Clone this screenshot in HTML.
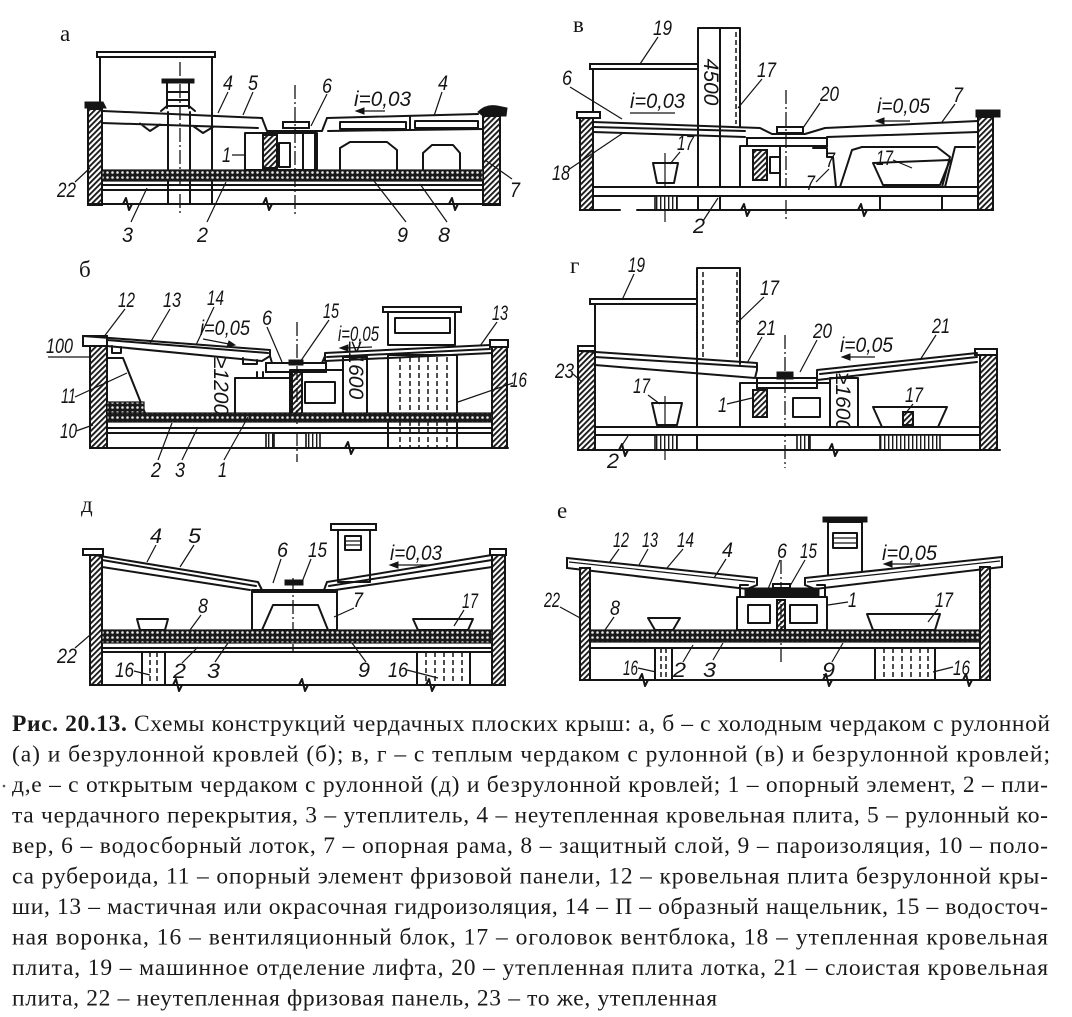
<!DOCTYPE html>
<html><head><meta charset="utf-8"><style>
html,body{margin:0;padding:0;background:#fff}
svg{display:block}
.l{fill:none;stroke:#141414;stroke-width:2;stroke-linejoin:round;stroke-linecap:round}
.t{fill:none;stroke:#141414;stroke-width:1.2}
.w{fill:#fff;stroke:#141414;stroke-width:2}
.b{fill:#141414;stroke:#141414;stroke-width:1}
.hw{fill:url(#h);stroke:#141414;stroke-width:2}
.ins{fill:url(#ins);stroke:#141414;stroke-width:1.2}
.vb{fill:url(#vl);stroke:#141414;stroke-width:1.6}
.ax{fill:none;stroke:#141414;stroke-width:1.3;stroke-dasharray:14 3 2 3}
.d{fill:none;stroke:#141414;stroke-width:1.5;stroke-dasharray:5 3}
.n{font-family:"Liberation Sans",sans-serif;font-style:italic;font-size:21px;fill:#141414}
.p{font-family:"Liberation Serif",serif;font-size:23px;fill:#141414}
.c{font-family:"Liberation Serif","Noto Serif CJK SC",serif;font-size:23.5px;fill:#1a1a1a}
</style></head><body>
<svg width="1072" height="1017" viewBox="0 0 1072 1017" xmlns="http://www.w3.org/2000/svg">
<defs>
<pattern id="h" width="4" height="4" patternUnits="userSpaceOnUse" patternTransform="rotate(45)"><rect width="4" height="4" fill="#fff"/><rect width="1.9" height="4" fill="#1a1a1a"/></pattern>
<pattern id="ins" width="5" height="5" patternUnits="userSpaceOnUse"><rect width="5" height="5" fill="#1a1a1a"/><circle cx="2.5" cy="2.5" r="1.3" fill="#e8e8e8"/></pattern>
<pattern id="vl" width="4" height="4" patternUnits="userSpaceOnUse"><rect width="4" height="4" fill="#fff"/><rect width="1.4" height="4" fill="#1a1a1a"/></pattern>
</defs>

<!-- ================= PANEL а ================= -->
<text class="p" x="60" y="41">а</text>
<rect class="w" x="97" y="52" width="118" height="5"/>
<path class="l" d="M100 57V111M212 57V111"/>
<rect class="b" x="162" y="79" width="32" height="4"/>
<path class="l" d="M167 83V108M189 83V108M167 92H189M167 100H189M161 111L167 106H189L195 111"/>
<path class="ax" d="M180 62V216"/>
<path class="l" d="M168 112V204M190 112V204M212 112V204"/>
<path class="b" d="M85 102H103L106 108H85Z"/>
<rect class="hw" x="88" y="109" width="14" height="96"/>
<rect class="hw" x="483" y="116" width="17" height="89"/>
<path class="b" d="M478 112Q486 104 497 106L507 108L506 116H483Z"/>
<path class="l" stroke-width="3" d="M103 111L262 118"/>
<path class="l" d="M102 123L258 128M140 123.5L150 131L160 124.5M193 126L203 133L213 127"/>
<path class="l" d="M262 118L267 131H322L327 118"/>
<rect class="w" x="283" y="122" width="26" height="6"/>
<path class="l" stroke-width="3" d="M327 118L478 114"/>
<path class="l" d="M328 131L483 129M410 117V130"/>
<rect class="l" x="340" y="122" width="66" height="7"/>
<rect class="l" x="415" y="121" width="63" height="7"/>
<rect class="l" x="245" y="133" width="72" height="37"/>
<rect class="hw" x="263" y="135" width="14" height="33"/>
<rect class="l" x="279" y="143" width="11" height="24"/>
<path class="l" d="M303 133V170M315 133V170"/>
<path class="ax" d="M295 85V216"/>
<path class="l" d="M340 172V148L350 142H387L397 150V172M423 172V153L432 145H453L460 153V172"/>
<rect class="ins" x="102" y="170" width="381" height="11"/>
<path class="l" d="M102 185H483M102 190H483"/>
<path class="l" d="M88 204H500"/>
<path class="l" d="M123 204L126 198L129 210L132 204M263 204L266 198L269 210L272 204M449 204L452 198L455 210L458 204"/>
<g class="t">
<path d="M228 92L218 113M253 92L243 115M327 94L311 126M442 92L434 116M232 155H246M75 182L90 168M512 179L485 160M131 222L147 188M207 222L226 182M406 222L374 181M447 222L420 184M385 111H362"/>
</g>
<path class="b" d="M356 111L364 108V114Z"/>
<text class="n" x="223" y="90" textLength="10" lengthAdjust="spacingAndGlyphs">4</text>
<text class="n" x="248" y="90" textLength="10" lengthAdjust="spacingAndGlyphs">5</text>
<text class="n" x="322" y="93" textLength="10" lengthAdjust="spacingAndGlyphs">6</text>
<text class="n" x="354" y="106" textLength="57" lengthAdjust="spacingAndGlyphs">i=0,03</text>
<text class="n" x="438" y="90" textLength="10" lengthAdjust="spacingAndGlyphs">4</text>
<text class="n" x="222" y="162" textLength="9" lengthAdjust="spacingAndGlyphs">1</text>
<text class="n" x="57" y="197" textLength="19" lengthAdjust="spacingAndGlyphs">22</text>
<text class="n" x="510" y="197" textLength="10" lengthAdjust="spacingAndGlyphs">7</text>
<text class="n" x="122" y="242" textLength="11" lengthAdjust="spacingAndGlyphs">3</text>
<text class="n" x="197" y="242" textLength="11" lengthAdjust="spacingAndGlyphs">2</text>
<text class="n" x="397" y="242" textLength="11" lengthAdjust="spacingAndGlyphs">9</text>
<text class="n" x="438" y="242" textLength="12" lengthAdjust="spacingAndGlyphs">8</text>

<!-- ================= PANEL в ================= -->
<text class="p" x="573" y="32">в</text>
<rect class="w" x="590" y="64" width="108" height="5"/>
<path class="l" d="M593 69V121"/>
<path class="l" d="M698 28H740V127M698 28V187M720 28V187M698 197V210M720 197V210"/>
<path class="d" d="M736 32V124"/>
<text class="n" font-size="16" transform="translate(704,82) rotate(90)" text-anchor="middle">4500</text>
<rect class="w" x="577" y="112" width="23" height="6"/>
<rect class="hw" x="580" y="118" width="13" height="92"/>
<rect class="b" x="976" y="110" width="24" height="7"/>
<rect class="hw" x="978" y="117" width="15" height="93"/>
<path class="l" stroke-width="3" d="M593 122L760 128L772 134H805L825 128L978 121"/>
<path class="l" d="M593 132L745 137M827 137L978 132M593 127L745 131"/>
<rect class="w" x="777" y="127" width="26" height="6"/>
<rect class="w" x="747" y="138" width="80" height="8"/>
<rect class="l" x="740" y="146" width="40" height="41"/>
<rect class="hw" x="753" y="150" width="14" height="30"/>
<rect class="l" x="770" y="157" width="10" height="16"/>
<path class="ax" d="M786 90V222"/>
<path class="l" d="M813 148H827V157H833L836 187M840 187L852 150L862 147H937L950 157L942 187M945 187L955 147H975"/>
<path class="l" d="M873 163L950 160L940 185H883Z"/>
<path class="l" d="M653 163H678L674 183H657Z"/>
<path class="t" d="M665 153V222"/>
<rect class="w" x="593" y="187" width="385" height="9"/>
<rect class="vb" x="655" y="196" width="22" height="14"/>
<path class="l" d="M880 196V210M942 196V210"/>
<path class="l" d="M580 210H620M637 210H993"/>
<path class="l" d="M741 210L744 204L747 216L750 210M858 210L861 204L864 216L867 210"/>
<g class="t"><path d="M658 37L640 64M762 79L738 108M570 87L622 119M820 103L803 128M955 104L942 122M568 170L623 133M680 152L670 164M829 169L816 182M893 160L912 168M703 221L718 198M630 113H675M910 121H882"/></g>
<path class="b" d="M876 121L884 118V124Z"/>
<text class="n" x="653" y="35" textLength="19" lengthAdjust="spacingAndGlyphs">19</text>
<text class="n" x="757" y="77" textLength="19" lengthAdjust="spacingAndGlyphs">17</text>
<text class="n" x="562" y="85" textLength="10" lengthAdjust="spacingAndGlyphs">6</text>
<text class="n" x="630" y="108" textLength="55" lengthAdjust="spacingAndGlyphs">i=0,03</text>
<text class="n" x="820" y="101" textLength="19" lengthAdjust="spacingAndGlyphs">20</text>
<text class="n" x="877" y="113" textLength="53" lengthAdjust="spacingAndGlyphs">i=0,05</text>
<text class="n" x="953" y="102" textLength="10" lengthAdjust="spacingAndGlyphs">7</text>
<text class="n" x="552" y="180" textLength="18" lengthAdjust="spacingAndGlyphs">18</text>
<text class="n" x="677" y="150" textLength="17" lengthAdjust="spacingAndGlyphs">17</text>
<text class="n" x="826" y="167" textLength="9" lengthAdjust="spacingAndGlyphs">7</text>
<text class="n" x="806" y="190" textLength="9" lengthAdjust="spacingAndGlyphs">7</text>
<text class="n" x="876" y="165" textLength="17" lengthAdjust="spacingAndGlyphs">17</text>
<text class="n" x="693" y="233" textLength="12" lengthAdjust="spacingAndGlyphs">2</text>

<!-- ================= PANEL б ================= -->
<text class="p" x="79" y="277">б</text>
<rect class="w" x="383" y="307" width="78" height="5"/>
<rect class="l" x="388" y="312" width="67" height="33"/>
<rect class="l" x="395" y="318" width="55" height="15"/>
<rect class="l" x="388" y="355" width="69" height="93"/>
<path class="d" d="M400 357V447M410 357V447M419 357V447M428 357V447M437 357V447M447 357V447"/>
<path class="l" d="M367 357V415"/>
<rect class="w" x="83" y="336" width="24" height="10"/>
<rect class="hw" x="90" y="346" width="17" height="102"/>
<rect class="w" x="490" y="340" width="18" height="7"/>
<rect class="hw" x="492" y="347" width="15" height="101"/>
<path class="l" d="M83 336L270 350V356L262 361L107 346M107 340L268 353"/>
<path class="l" d="M112 346V353H121V347M243 358V364H257V360"/>
<path class="l" d="M270 356L272 363H322L325 356"/>
<rect class="w" x="266" y="363" width="60" height="9"/>
<rect class="b" x="289" y="360" width="14" height="5"/>
<path class="l" d="M325 353L490 345M325 353V361L492 353M327 357L490 349"/>
<path class="l" d="M107 358H123L145 413"/>
<rect class="ins" x="107" y="402" width="37" height="11"/>
<path class="l" d="M257 372V378M263 372V378"/>
<rect class="l" x="235" y="378" width="55" height="37"/>
<rect class="l" x="290" y="370" width="53" height="45"/>
<rect class="hw" x="292" y="372" width="10" height="42"/>
<rect class="l" x="305" y="382" width="30" height="21"/>
<rect class="l" x="343" y="357" width="24" height="58"/>
<path class="ax" d="M297 322V462"/>
<rect class="ins" x="107" y="413" width="385" height="9"/>
<path class="l" d="M107 428H492M107 433H492"/>
<rect class="vb" x="266" y="433" width="8" height="15"/>
<rect class="vb" x="306" y="433" width="14" height="15"/>
<path class="l" d="M90 448H508"/>
<path class="l" d="M345 448L348 442L351 454L354 448"/>
<text class="n" font-size="16" transform="translate(214,386) rotate(90)" text-anchor="middle">≥1200</text>
<text class="n" font-size="15" transform="translate(349,370) rotate(90)" text-anchor="middle">≥1600</text>
<g class="t"><path d="M125 309L103 338M170 309L150 343M214 307L196 345M267 327L282 362M329 320L300 362M497 322L480 346M48 357H92M75 397L127 373M76 431L93 425M158 460L172 423M182 460L198 427M224 460L248 417M513 383L458 402M203 339L229 344M372 347L346 348"/></g>
<path class="b" d="M235 345L227 347L229 341Z"/>
<path class="b" d="M340 348L348 345V351Z"/>
<text class="n" x="118" y="307" textLength="17" lengthAdjust="spacingAndGlyphs">12</text>
<text class="n" x="163" y="307" textLength="18" lengthAdjust="spacingAndGlyphs">13</text>
<text class="n" x="207" y="305" textLength="17" lengthAdjust="spacingAndGlyphs">14</text>
<text class="n" x="200" y="335" textLength="50" lengthAdjust="spacingAndGlyphs">i=0,05</text>
<text class="n" x="262" y="325" textLength="10" lengthAdjust="spacingAndGlyphs">6</text>
<text class="n" x="323" y="318" textLength="16" lengthAdjust="spacingAndGlyphs">15</text>
<text class="n" x="338" y="341" textLength="41" lengthAdjust="spacingAndGlyphs">i=0,05</text>
<text class="n" x="492" y="320" textLength="16" lengthAdjust="spacingAndGlyphs">13</text>
<text class="n" x="46" y="353" textLength="27" lengthAdjust="spacingAndGlyphs">100</text>
<text class="n" x="61" y="403" textLength="15" lengthAdjust="spacingAndGlyphs">11</text>
<text class="n" x="60" y="438" textLength="17" lengthAdjust="spacingAndGlyphs">10</text>
<text class="n" x="151" y="477" textLength="10" lengthAdjust="spacingAndGlyphs">2</text>
<text class="n" x="175" y="477" textLength="10" lengthAdjust="spacingAndGlyphs">3</text>
<text class="n" x="218" y="477" textLength="9" lengthAdjust="spacingAndGlyphs">1</text>
<text class="n" x="510" y="387" textLength="17" lengthAdjust="spacingAndGlyphs">16</text>

<!-- ================= PANEL г ================= -->
<text class="p" x="570" y="273">г</text>
<rect class="w" x="590" y="299" width="107" height="5"/>
<path class="l" d="M595 304V352"/>
<path class="l" d="M697 268H740V364M697 268V450"/>
<path class="d" d="M703 272V360M737 272V360"/>
<rect class="w" x="578" y="346" width="17" height="5"/>
<rect class="hw" x="578" y="351" width="17" height="99"/>
<rect class="w" x="975" y="349" width="22" height="6"/>
<rect class="hw" x="980" y="355" width="17" height="95"/>
<path class="l" d="M581 351L757 363V370L755 378L595 365M595 357L757 367"/>
<rect class="w" x="757" y="378" width="60" height="10"/>
<rect class="b" x="777" y="372" width="16" height="7"/>
<path class="l" d="M817 370L977 353M817 370V380L977 362M820 374L977 357"/>
<rect class="l" x="740" y="383" width="90" height="44"/>
<rect class="hw" x="753" y="390" width="14" height="27"/>
<rect class="l" x="793" y="398" width="27" height="19"/>
<rect class="l" x="830" y="378" width="28" height="49"/>
<text class="n" font-size="14" transform="translate(836,402) rotate(90)" text-anchor="middle">≥1600</text>
<path class="ax" d="M785 335V468"/>
<path class="l" d="M652 403H682L677 425H657Z"/>
<path class="t" d="M665 396V460"/>
<path class="l" d="M873 407H947L938 427H882Z"/>
<rect class="hw" x="903" y="412" width="10" height="13"/>
<rect class="w" x="595" y="427" width="385" height="8"/>
<rect class="vb" x="655" y="435" width="22" height="15"/>
<rect class="vb" x="880" y="435" width="60" height="15"/>
<rect class="vb" x="797" y="435" width="13" height="15"/>
<path class="l" d="M578 450H1000"/>
<path class="l" d="M619 450L622 444L625 456L628 450M829 450L832 444L835 456L838 450"/>
<g class="t"><path d="M634 274L622 300M764 297L738 322M762 337L747 363M817 340L800 372M936 335L920 360M573 374L582 382M648 395L660 404M727 404L752 398M913 404L905 414M619 450L628 436M875 357H848"/></g>
<path class="b" d="M842 357L850 354V360Z"/>
<text class="n" x="628" y="272" textLength="17" lengthAdjust="spacingAndGlyphs">19</text>
<text class="n" x="760" y="295" textLength="19" lengthAdjust="spacingAndGlyphs">17</text>
<text class="n" x="757" y="335" textLength="19" lengthAdjust="spacingAndGlyphs">21</text>
<text class="n" x="813" y="338" textLength="19" lengthAdjust="spacingAndGlyphs">20</text>
<text class="n" x="840" y="352" textLength="53" lengthAdjust="spacingAndGlyphs">i=0,05</text>
<text class="n" x="932" y="333" textLength="18" lengthAdjust="spacingAndGlyphs">21</text>
<text class="n" x="555" y="378" textLength="19" lengthAdjust="spacingAndGlyphs">23</text>
<text class="n" x="633" y="393" textLength="17" lengthAdjust="spacingAndGlyphs">17</text>
<text class="n" x="718" y="412" textLength="9" lengthAdjust="spacingAndGlyphs">1</text>
<text class="n" x="905" y="402" textLength="18" lengthAdjust="spacingAndGlyphs">17</text>
<text class="n" x="607" y="468" textLength="12" lengthAdjust="spacingAndGlyphs">2</text>

<!-- ================= PANEL д ================= -->
<text class="p" x="81" y="512">д</text>
<rect class="w" x="331" y="524" width="45" height="6"/>
<rect class="l" x="338" y="530" width="32" height="52"/>
<rect class="l" x="345" y="536" width="16" height="14"/>
<path class="t" d="M345 541H361M345 545H361"/>
<rect class="w" x="83" y="549" width="20" height="6"/>
<rect class="hw" x="90" y="555" width="12" height="130"/>
<rect class="w" x="490" y="549" width="16" height="6"/>
<rect class="hw" x="492" y="555" width="13" height="130"/>
<path class="l" d="M94 555L258 582M102 560L256 586M102 567L250 590M258 582L262 590"/>
<path class="l" d="M327 582L492 555M329 586L492 560M335 590L492 567M327 582L324 590"/>
<path class="l" d="M262 590H324"/>
<rect class="b" x="285" y="580" width="18" height="5"/>
<rect class="l" x="252" y="590" width="85" height="40"/>
<path class="l" stroke-width="3" d="M252 592H337"/>
<path class="l" d="M262 630L273 605H318L328 630"/>
<path class="ax" d="M293 578V652"/>
<path class="l" d="M137 619H168L165 630H140Z"/>
<path class="l" d="M413 619H473L468 630H418Z"/>
<rect class="ins" x="102" y="630" width="390" height="13"/>
<path class="l" d="M102 648H492M102 652H492"/>
<rect class="l" x="142" y="652" width="23" height="33"/>
<path class="d" d="M150 652V685M157 652V685"/>
<rect class="l" x="417" y="652" width="53" height="33"/>
<path class="d" d="M426 652V685M435 652V685M444 652V685M453 652V685M462 652V685"/>
<path class="l" d="M90 685H505"/>
<path class="l" d="M173 685L176 679L179 691L182 685M299 685L302 679L305 691L308 685M426 685L429 679L432 691L435 685"/>
<g class="t"><path d="M156 545L147 562M194 545L180 567M281 559L273 583M311 559L302 582M201 615L190 630M354 608L334 617M464 610L454 626M75 648L90 635M134 671L150 675M182 663L198 647M215 662L228 643M366 662L352 643M407 670L438 678M430 565H396"/></g>
<path class="b" d="M390 565L398 562V568Z"/>
<text class="n" x="150" y="543" textLength="12" lengthAdjust="spacingAndGlyphs">4</text>
<text class="n" x="188" y="543" textLength="13" lengthAdjust="spacingAndGlyphs">5</text>
<text class="n" x="277" y="557" textLength="11" lengthAdjust="spacingAndGlyphs">6</text>
<text class="n" x="308" y="557" textLength="19" lengthAdjust="spacingAndGlyphs">15</text>
<text class="n" x="390" y="560" textLength="52" lengthAdjust="spacingAndGlyphs">i=0,03</text>
<text class="n" x="198" y="613" textLength="10" lengthAdjust="spacingAndGlyphs">8</text>
<text class="n" x="353" y="607" textLength="10" lengthAdjust="spacingAndGlyphs">7</text>
<text class="n" x="462" y="608" textLength="16" lengthAdjust="spacingAndGlyphs">17</text>
<text class="n" x="57" y="663" textLength="20" lengthAdjust="spacingAndGlyphs">22</text>
<text class="n" x="115" y="677" textLength="19" lengthAdjust="spacingAndGlyphs">16</text>
<text class="n" x="173" y="678" textLength="13" lengthAdjust="spacingAndGlyphs">2</text>
<text class="n" x="207" y="678" textLength="13" lengthAdjust="spacingAndGlyphs">3</text>
<text class="n" x="358" y="677" textLength="12" lengthAdjust="spacingAndGlyphs">9</text>
<text class="n" x="388" y="677" textLength="20" lengthAdjust="spacingAndGlyphs">16</text>

<!-- ================= PANEL е ================= -->
<text class="p" x="557" y="518">е</text>
<rect class="b" x="823" y="517" width="44" height="5"/>
<rect class="l" x="828" y="522" width="34" height="55"/>
<rect class="l" x="833" y="533" width="24" height="15"/>
<path class="t" d="M833 538H857M833 543H857"/>
<path class="w" d="M567 558L757 578V585L747 589L567 568Z"/>
<path class="t" d="M569 562L755 582"/>
<path class="w" d="M805 578L1002 557V567L815 589L805 585Z"/>
<path class="t" d="M807 582L1000 561"/>
<rect class="hw" x="580" y="568" width="10" height="112"/>
<rect class="hw" x="980" y="567" width="10" height="113"/>
<path class="b" d="M745 588H819V596H745Z"/>
<path class="l" d="M740 597V585H748M825 597V585H817"/>
<rect class="w" x="773" y="584" width="17" height="4"/>
<rect class="l" x="737" y="597" width="90" height="33"/>
<rect class="l" x="748" y="605" width="22" height="18"/>
<rect class="l" x="790" y="605" width="27" height="18"/>
<rect class="hw" x="777" y="600" width="8" height="30"/>
<path class="ax" d="M781 560V663"/>
<path class="l" d="M648 618H680L673 630H655Z"/>
<path class="l" d="M867 614H940L935 630H873Z"/>
<rect class="ins" x="590" y="630" width="390" height="12"/>
<path class="l" d="M590 648H980"/>
<rect class="l" x="655" y="648" width="17" height="32"/>
<path class="d" d="M661 648V680M666 648V680"/>
<rect class="l" x="875" y="648" width="60" height="32"/>
<path class="d" d="M884 648V680M893 648V680M902 648V680M911 648V680M920 648V680M928 648V680"/>
<path class="l" d="M580 680H990"/>
<path class="l" d="M639 680L642 674L645 686L648 680M823 680L826 674L829 686L832 680M963 680L966 674L969 686L972 680"/>
<g class="t"><path d="M619 549L609 563M648 549L639 565M683 549L667 568M726 559L714 578M780 560L768 589M805 560L790 586M848 602L828 605M938 609L928 622M560 607L582 619M614 617L605 630M638 668L656 672M683 662L693 645M713 660L723 643M832 662L843 643M953 667L933 672M920 564H890"/></g>
<path class="b" d="M884 564L892 561V567Z"/>
<text class="n" x="613" y="547" textLength="16" lengthAdjust="spacingAndGlyphs">12</text>
<text class="n" x="642" y="547" textLength="16" lengthAdjust="spacingAndGlyphs">13</text>
<text class="n" x="677" y="547" textLength="17" lengthAdjust="spacingAndGlyphs">14</text>
<text class="n" x="722" y="557" textLength="11" lengthAdjust="spacingAndGlyphs">4</text>
<text class="n" x="777" y="558" textLength="10" lengthAdjust="spacingAndGlyphs">6</text>
<text class="n" x="800" y="558" textLength="17" lengthAdjust="spacingAndGlyphs">15</text>
<text class="n" x="882" y="560" textLength="55" lengthAdjust="spacingAndGlyphs">i=0,05</text>
<text class="n" x="848" y="607" textLength="9" lengthAdjust="spacingAndGlyphs">1</text>
<text class="n" x="935" y="607" textLength="18" lengthAdjust="spacingAndGlyphs">17</text>
<text class="n" x="544" y="607" textLength="16" lengthAdjust="spacingAndGlyphs">22</text>
<text class="n" x="610" y="615" textLength="10" lengthAdjust="spacingAndGlyphs">8</text>
<text class="n" x="623" y="675" textLength="15" lengthAdjust="spacingAndGlyphs">16</text>
<text class="n" x="673" y="677" textLength="13" lengthAdjust="spacingAndGlyphs">2</text>
<text class="n" x="703" y="677" textLength="13" lengthAdjust="spacingAndGlyphs">3</text>
<text class="n" x="822" y="677" textLength="13" lengthAdjust="spacingAndGlyphs">9</text>
<text class="n" x="953" y="675" textLength="17" lengthAdjust="spacingAndGlyphs">16</text>

<!-- ================= CAPTION ================= -->
<text class="c" x="12" y="731" textLength="1038" lengthAdjust="spacing"><tspan font-weight="bold">Рис. 20.13.</tspan> Схемы конструкций чердачных плоских крыш: а, б – с холодным чердаком с рулонной</text>
<text class="c" x="12" y="761.5" textLength="1038" lengthAdjust="spacing">(а) и безрулонной кровлей (б); в, г – с теплым чердаком с рулонной (в) и безрулонной кровлей;</text>
<circle cx="4" cy="786" r="1.3" fill="#555"/>
<text class="c" x="12" y="792" textLength="1036" lengthAdjust="spacing">д,е – с открытым чердаком с рулонной (д) и безрулонной кровлей; 1 – опорный элемент, 2 – пли-</text>
<text class="c" x="12" y="822.5" textLength="1036" lengthAdjust="spacing">та чердачного перекрытия, 3 – утеплитель, 4 – неутепленная кровельная плита, 5 – рулонный ко-</text>
<text class="c" x="12" y="853" textLength="1036" lengthAdjust="spacing">вер, 6 – водосборный лоток, 7 – опорная рама, 8 – защитный слой, 9 – пароизоляция, 10 – поло-</text>
<text class="c" x="12" y="883.5" textLength="1036" lengthAdjust="spacing">са рубероида, 11 – опорный элемент фризовой панели, 12 – кровельная плита безрулонной кры-</text>
<text class="c" x="12" y="914" textLength="1036" lengthAdjust="spacing">ши, 13 – мастичная или окрасочная гидроизоляция, 14 – П – образный нащельник, 15 – водосточ-</text>
<text class="c" x="12" y="944.5" textLength="1036" lengthAdjust="spacing">ная воронка, 16 – вентиляционный блок, 17 – оголовок вентблока, 18 – утепленная кровельная</text>
<text class="c" x="12" y="975" textLength="1036" lengthAdjust="spacing">плита, 19 – машинное отделение лифта, 20 – утепленная плита лотка, 21 – слоистая кровельная</text>
<text class="c" x="12" y="1005.5" textLength="705" lengthAdjust="spacing">плита, 22 – неутепленная фризовая панель, 23 – то же, утепленная</text>
</svg>
</body></html>
